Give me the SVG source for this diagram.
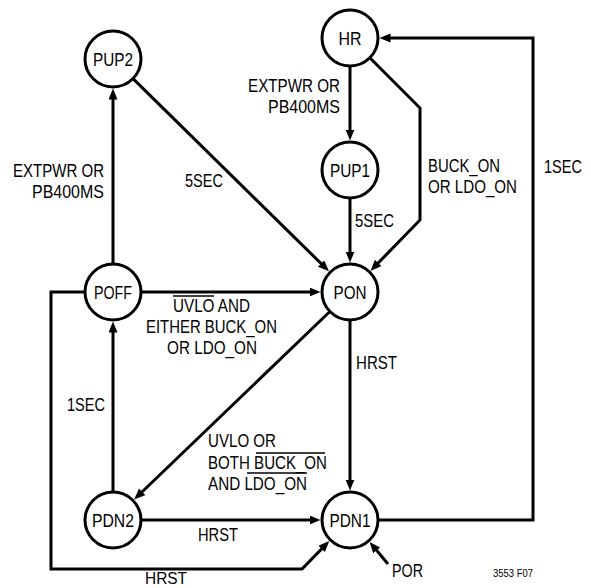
<svg xmlns="http://www.w3.org/2000/svg" width="591" height="588" viewBox="0 0 591 588">
<style>
.node circle{fill:#fff;stroke:#000;stroke-width:3}
text{font-family:"Liberation Sans",Arial,sans-serif;font-size:18px;fill:#000}
.nl{text-anchor:middle}
.cn{fill:none;stroke:#000;stroke-width:3;stroke-linejoin:miter}
.ar{marker-end:url(#ah)}
.ovl{stroke:#000;stroke-width:1.3}
.small{font-size:10.5px}
.bot{font-size:16px}
</style>
<defs>
<marker id="ah" markerUnits="userSpaceOnUse" markerWidth="12" markerHeight="10" refX="6" refY="4.5" orient="auto">
<path d="M0,0 L11,4.5 L0,9 z" fill="#000"/>
</marker>
</defs>
<rect width="591" height="588" fill="#fff"/>
<g id="connectors">
<path class="cn ar" d="M113,264 V93.5"/>
<path class="cn ar" d="M133,78.6 L325.4,267.8"/>
<path class="cn ar" d="M350,66 V135.5"/>
<path class="cn ar" d="M369.8,57.8 L420,108 V220 L374,267.3"/>
<path class="cn ar" d="M350,198 V257.5"/>
<path class="cn ar" d="M378,520 H533 V38 H384.5"/>
<path class="cn ar" d="M141,292 H315.5"/>
<path class="cn ar" d="M329.9,311.5 L137.8,496"/>
<path class="cn ar" d="M350,320 V485.5"/>
<path class="cn ar" d="M113,492 V326.5"/>
<path class="cn ar" d="M141,520 H315.5"/>
<path class="cn ar" d="M85,292 H51 V569 H302 L325.8,544.6"/>
<path class="cn ar" d="M388,564 L372.8,545.8"/>
</g>
<g id="labels">
<text x="13" y="177" textLength="91" lengthAdjust="spacingAndGlyphs">EXTPWR OR</text>
<text x="32" y="198" textLength="72" lengthAdjust="spacingAndGlyphs">PB400MS</text>
<text x="185" y="187" textLength="38" lengthAdjust="spacingAndGlyphs">5SEC</text>
<text x="248" y="92" textLength="92" lengthAdjust="spacingAndGlyphs">EXTPWR OR</text>
<text x="268" y="113" textLength="72" lengthAdjust="spacingAndGlyphs">PB400MS</text>
<text x="428" y="172" textLength="72" lengthAdjust="spacingAndGlyphs">BUCK_ON</text>
<text x="428" y="193" textLength="89" lengthAdjust="spacingAndGlyphs">OR LDO_ON</text>
<text x="544" y="173" textLength="38" lengthAdjust="spacingAndGlyphs">1SEC</text>
<text x="355" y="227" textLength="39" lengthAdjust="spacingAndGlyphs">5SEC</text>
<text x="173" y="312" textLength="77" lengthAdjust="spacingAndGlyphs">UVLO AND</text>
<line class="ovl" x1="173" y1="296" x2="214" y2="296"/>
<text x="146" y="333" textLength="131" lengthAdjust="spacingAndGlyphs">EITHER BUCK_ON</text>
<text x="167" y="354" textLength="90" lengthAdjust="spacingAndGlyphs">OR LDO_ON</text>
<text x="67" y="411" textLength="38" lengthAdjust="spacingAndGlyphs">1SEC</text>
<text x="356" y="369" textLength="41" lengthAdjust="spacingAndGlyphs">HRST</text>
<text x="208" y="447" textLength="68" lengthAdjust="spacingAndGlyphs">UVLO OR</text>
<text x="208" y="469" textLength="119" lengthAdjust="spacingAndGlyphs">BOTH BUCK_ON</text>
<line class="ovl" x1="256" y1="453" x2="325" y2="453"/>
<text x="208" y="490" textLength="99" lengthAdjust="spacingAndGlyphs">AND LDO_ON</text>
<line class="ovl" x1="247" y1="473" x2="307" y2="473"/>
<text x="198" y="541" textLength="40" lengthAdjust="spacingAndGlyphs">HRST</text>
<text class="bot" x="145" y="584" textLength="42" lengthAdjust="spacingAndGlyphs">HRST</text>
<text x="392" y="577" textLength="31" lengthAdjust="spacingAndGlyphs">POR</text>
<text class="small" x="493" y="577" textLength="40" lengthAdjust="spacingAndGlyphs">3553 F07</text>
</g>
<g id="PUP2" class="node"><circle cx="113" cy="59" r="28"/><text class="nl" x="113" y="65.5" textLength="40" lengthAdjust="spacingAndGlyphs">PUP2</text></g>
<g id="HR" class="node"><circle cx="350" cy="38" r="28"/><text class="nl" x="350" y="44.5" textLength="23" lengthAdjust="spacingAndGlyphs">HR</text></g>
<g id="PUP1" class="node"><circle cx="350" cy="170" r="28"/><text class="nl" x="350" y="176.5" textLength="40" lengthAdjust="spacingAndGlyphs">PUP1</text></g>
<g id="PON" class="node"><circle cx="350" cy="292" r="28"/><text class="nl" x="350" y="298.5" textLength="33" lengthAdjust="spacingAndGlyphs">PON</text></g>
<g id="POFF" class="node"><circle cx="113" cy="292" r="28"/><text class="nl" x="113" y="298.5" textLength="38" lengthAdjust="spacingAndGlyphs">POFF</text></g>
<g id="PDN2" class="node"><circle cx="113" cy="520" r="28"/><text class="nl" x="113" y="526.5" textLength="42" lengthAdjust="spacingAndGlyphs">PDN2</text></g>
<g id="PDN1" class="node"><circle cx="350" cy="520" r="28"/><text class="nl" x="350" y="526.5" textLength="41" lengthAdjust="spacingAndGlyphs">PDN1</text></g>
</svg>
